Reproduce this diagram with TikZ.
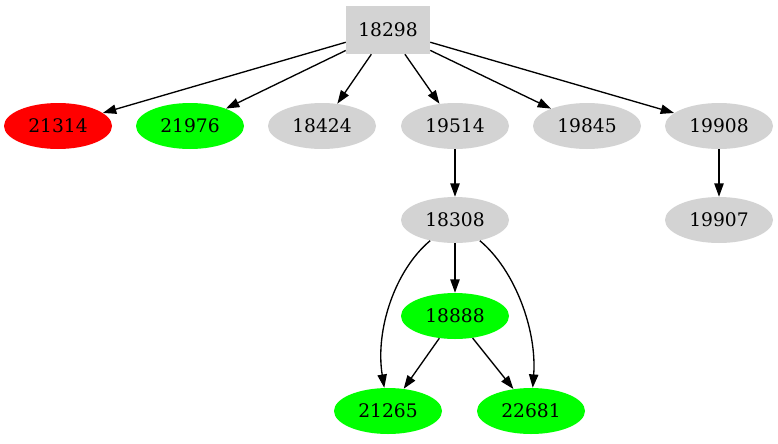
\documentclass[tikz,border=0pt]{standalone}
\usepackage{fontspec}
\setmainfont{DejaVu Serif}
\usetikzlibrary{arrows.meta,shapes.geometric}
\definecolor{gvgray}{HTML}{D3D3D3}
\definecolor{gvred}{HTML}{FF0000}
\definecolor{gvgreen}{HTML}{00FF00}

\begin{document}
\begin{tikzpicture}[x=0.75pt,y=-0.75pt,
    every node/.style={font=\fontsize{14pt}{16pt}\selectfont,inner sep=0pt},
    ell/.style={ellipse,minimum width=81pt,minimum height=34.5pt},
    grayell/.style={ell,fill=gvgray},
    redell/.style={ell,fill=gvred},
    greenell/.style={ell,fill=gvgreen},
    rootbox/.style={rectangle,fill=gvgray,minimum width=63pt,minimum height=36pt},
    edge/.style={-{Triangle[length=10pt,width=7pt]},line width=1pt}]
    \useasboundingbox (0,0) rectangle (778,443);
    % nodes
    \node[rootbox]  (n18298) at (388,30)  {18298};
    \node[redell]   (n21314) at (58,126)  {21314};
    \node[greenell] (n21976) at (190,126) {21976};
    \node[grayell]  (n18424) at (322,126) {18424};
    \node[grayell]  (n19514) at (455,126) {19514};
    \node[grayell]  (n19845) at (587,126) {19845};
    \node[grayell]  (n19908) at (719,126) {19908};
    \node[grayell]  (n18308) at (455,220) {18308};
    \node[grayell]  (n19907) at (719,220) {19907};
    \node[greenell] (n18888) at (455,316) {18888};
    \node[greenell] (n21265) at (388,411) {21265};
    \node[greenell] (n22681) at (531,411) {22681};
    % edges
    \foreach \t in {n21314,n21976,n18424,n19514,n19845,n19908}
      \draw[edge] (n18298) -- (\t);
    \draw[edge] (n19514) -- (n18308);
    \draw[edge] (n19908) -- (n19907);
    \draw[edge] (n18308) -- (n18888);
    \draw[edge] (n18888) -- (n21265);
    \draw[edge] (n18888) -- (n22681);
    \draw[edge] (n18308) .. controls (395,270) and (375,330) .. (n21265);
    \draw[edge] (n18308) .. controls (515,270) and (537,330) .. (n22681);
  \end{tikzpicture}
\end{document}
